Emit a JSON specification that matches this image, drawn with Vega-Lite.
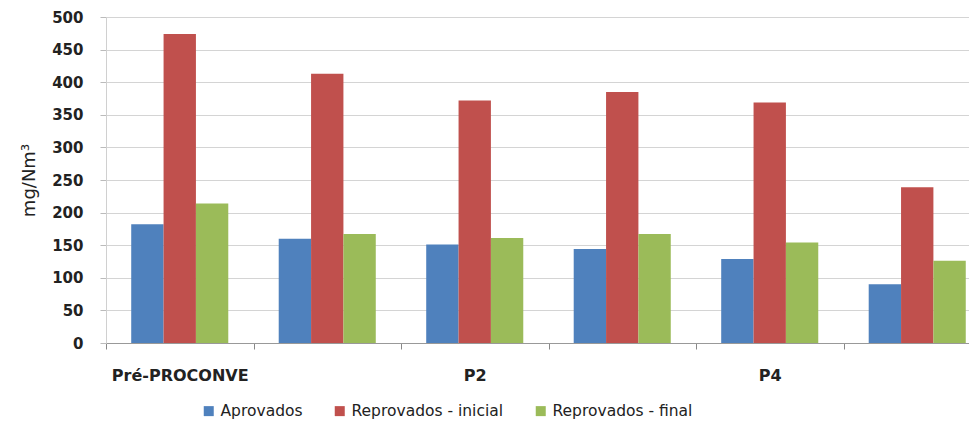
{
  "$schema": "https://vega.github.io/schema/vega-lite/v6.json",
  "autosize": {"type": "none"},
  "padding": {"left": 106, "top": 17, "right": 0, "bottom": 90},
  "width": 863,
  "height": 326,
  "background": "white",
  "data": {
    "values": [
      {"fase": "Pré-PROCONVE", "serie": "Aprovados", "valor": 182},
      {"fase": "Pré-PROCONVE", "serie": "Reprovados - inicial", "valor": 474},
      {"fase": "Pré-PROCONVE", "serie": "Reprovados - final", "valor": 214},
      {"fase": "P1", "serie": "Aprovados", "valor": 160},
      {"fase": "P1", "serie": "Reprovados - inicial", "valor": 413},
      {"fase": "P1", "serie": "Reprovados - final", "valor": 167},
      {"fase": "P2", "serie": "Aprovados", "valor": 151},
      {"fase": "P2", "serie": "Reprovados - inicial", "valor": 372},
      {"fase": "P2", "serie": "Reprovados - final", "valor": 161},
      {"fase": "P3", "serie": "Aprovados", "valor": 144},
      {"fase": "P3", "serie": "Reprovados - inicial", "valor": 385},
      {"fase": "P3", "serie": "Reprovados - final", "valor": 167},
      {"fase": "P4", "serie": "Aprovados", "valor": 129},
      {"fase": "P4", "serie": "Reprovados - inicial", "valor": 369},
      {"fase": "P4", "serie": "Reprovados - final", "valor": 154},
      {"fase": "P5", "serie": "Aprovados", "valor": 90},
      {"fase": "P5", "serie": "Reprovados - inicial", "valor": 239},
      {"fase": "P5", "serie": "Reprovados - final", "valor": 126}
    ]
  },
  "mark": {"type": "bar"},
  "encoding": {
    "x": {
      "field": "fase",
      "type": "nominal",
      "sort": ["Pré-PROCONVE", "P1", "P2", "P3", "P4", "P5"],
      "scale": {"paddingInner": 0.342, "paddingOuter": 0.0965, "align": 0.886},
      "axis": {
        "title": null,
        "labelAngle": 0,
        "labelExpr": "indexof(['P1','P3','P5'], datum.value) >= 0 ? '' : datum.value",
        "labelFont": "DejaVu Sans",
        "labelFontSize": 16,
        "labelFontWeight": "bold",
        "labelColor": "#222222",
        "labelPadding": 18,
        "labelOffset": 25,
        "bandPosition": 0,
        "tickOffset": -25,
        "tickSize": 6,
        "tickColor": "#888888",
        "domainColor": "#999999",
        "grid": false
      }
    },
    "xOffset": {
      "field": "serie",
      "type": "nominal",
      "sort": ["Aprovados", "Reprovados - inicial", "Reprovados - final"],
      "scale": {"paddingInner": 0, "paddingOuter": 0}
    },
    "y": {
      "field": "valor",
      "type": "quantitative",
      "scale": {"domain": [0, 500], "nice": false},
      "axis": {
        "title": "mg/Nm³",
        "titleFont": "DejaVu Sans",
        "titleFontSize": 18,
        "titleFontWeight": "normal",
        "titleColor": "#222222",
        "titlePadding": 13,
        "values": [0, 50, 100, 150, 200, 250, 300, 350, 400, 450, 500],
        "labelFont": "DejaVu Sans",
        "labelFontSize": 15,
        "labelFontWeight": "bold",
        "labelColor": "#222222",
        "labelPadding": 17,
        "tickSize": 6,
        "tickColor": "#bbbbbb",
        "domainColor": "#d0d0d0",
        "gridColor": "#d4d4d4",
        "gridWidth": 1.2
      }
    },
    "color": {
      "field": "serie",
      "type": "nominal",
      "sort": ["Aprovados", "Reprovados - inicial", "Reprovados - final"],
      "scale": {
        "domain": ["Aprovados", "Reprovados - inicial", "Reprovados - final"],
        "range": ["#4F81BD", "#C0504D", "#9BBB59"]
      },
      "legend": {
        "title": null,
        "orient": "none",
        "direction": "horizontal",
        "legendX": 95,
        "legendY": 386,
        "symbolType": "square",
        "symbolSize": 100,
        "symbolStrokeWidth": 0,
        "labelFont": "DejaVu Sans",
        "labelFontSize": 15.5,
        "labelColor": "#222222",
        "columnPadding": 29,
        "labelOffset": 4
      }
    }
  },
  "config": {
    "view": {"stroke": null}
  }
}
